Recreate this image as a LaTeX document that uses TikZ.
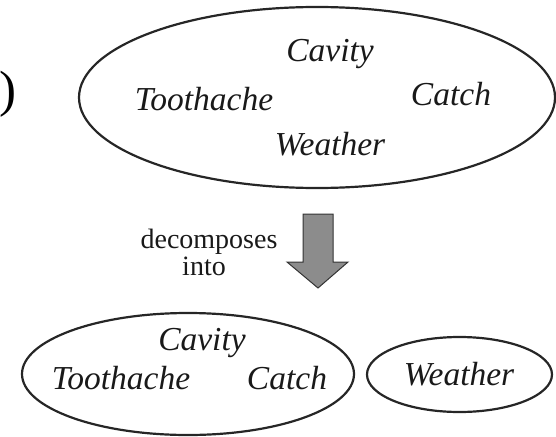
\documentclass[tikz,border=0pt]{standalone}
\usepackage{fontspec}
\setmainfont{Liberation Serif}[ItalicFont={Liberation Serif Italic}]
\usetikzlibrary{shapes.geometric}
\begin{document}
\begin{tikzpicture}[x=1pt,y=-1pt,
  blob/.style={draw=black!85,line width=2.2pt,ellipse,inner sep=0pt},
  var/.style={font=\fontsize{33.5}{36}\selectfont\itshape,anchor=base,inner sep=0pt,text=black!90},
  lbl/.style={font=\fontsize{28}{27}\selectfont,align=center,inner sep=0pt,text=black!90},
  bigarrow/.style={fill=black!45,draw=black!80,line width=1pt,line join=miter}]
\useasboundingbox (0,0) rectangle (556,436);
\clip (0,0) rectangle (556,436);
% left fragment
\node[font=\fontsize{51}{54}\selectfont,anchor=base east,inner sep=0pt] (frag) at (17,106) {)};
% top ellipse
\node[blob,minimum width=476pt,minimum height=181pt] (top) at (317,97.5) {};
\node[var] (tcav) at (330,62) {Cavity};
\node[var] (ttoo) at (204,110) {Toothache};
\node[var] (tcat) at (451,105) {Catch};
\node[var] (twea) at (330,155) {Weather};
% arrow
\draw[bigarrow] (303,214) -- (333,214) -- (333,262) -- (348,262) -- (318,288) -- (287,262) -- (303,262) -- cycle;
\node[lbl,anchor=base] (dec) at (209,248) {decomposes};
\node[lbl,anchor=base] (into) at (204,275) {into};
% bottom ellipses
\node[blob,minimum width=332pt,minimum height=122pt] (bl) at (188,374) {};
\node[var] (bcav) at (202,350) {Cavity};
\node[var] (btoo) at (121,389) {Toothache};
\node[var] (bcat) at (287,389) {Catch};
\node[blob,minimum width=185pt,minimum height=75pt] (br) at (459.5,374.5) {};
\node[var] (bwea) at (459,385) {Weather};
\end{tikzpicture}
\end{document}
